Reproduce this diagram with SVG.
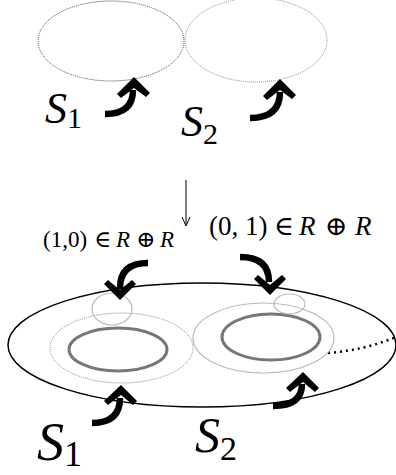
<svg xmlns="http://www.w3.org/2000/svg" width="396" height="475" viewBox="0 0 396 475">
<style>
text{font-family:'Liberation Serif','Times New Roman',Tinos,'DejaVu Serif',serif;fill:#000}
.it{font-style:italic}
.dot1{fill:none;stroke:#444;stroke-width:1;stroke-dasharray:1 1}
.dot2{fill:none;stroke:#888;stroke-width:1;stroke-dasharray:1 1}
.thick{fill:none;stroke:#777;stroke-width:3}
.small{fill:none;stroke:#bbb;stroke-width:1.2}
.arr{fill:none;stroke:#000;stroke-width:6.5}
.head{fill:#000;stroke:none}
</style>
<rect width="396" height="475" fill="#fff"/>
<g id="top-circle-1"><ellipse class="dot1" cx="111" cy="41" rx="73" ry="40"/></g>
<g id="top-circle-2"><ellipse class="dot2" cx="256" cy="40" rx="71" ry="42"/></g>
<g id="top-label-1"><text x="45" y="123" font-size="44"><tspan class="it">S</tspan><tspan font-size="30" dy="5">1</tspan></text></g>
<g id="top-label-2"><text x="181" y="136" font-size="44"><tspan class="it">S</tspan><tspan font-size="30" dy="8">2</tspan></text></g>
<g id="surface">
<ellipse cx="202" cy="345" rx="194" ry="62" fill="none" stroke="#000" stroke-width="1.5"/>
<path d="M328,353 Q365,350 396,337" fill="none" stroke="#000" stroke-width="2.5" stroke-dasharray="2 4"/>
</g>
<g id="bottom-circle-1">
<ellipse class="dot2" cx="121.5" cy="348" rx="71.5" ry="35"/>
<ellipse class="thick" cx="118" cy="349.5" rx="49" ry="21.5"/>
<ellipse class="small" cx="112" cy="309" rx="20" ry="16"/>
</g>
<g id="bottom-circle-2">
<ellipse class="small" cx="263.5" cy="338" rx="70.5" ry="35" stroke-width="1"/>
<ellipse class="thick" cx="271" cy="337" rx="49" ry="23"/>
<ellipse class="small" cx="289.5" cy="304" rx="15.5" ry="10"/>
</g>
<g id="label-10"><text y="247" font-size="23"><tspan x="43">(1,0)</tspan><tspan x="94">∈</tspan><tspan x="116" class="it">R</tspan><tspan x="136">⊕</tspan><tspan x="160" class="it">R</tspan></text></g>
<g id="label-01"><text y="235" font-size="27"><tspan x="209">(0, 1)</tspan><tspan x="274">∈</tspan><tspan x="299" class="it">R</tspan><tspan x="325">⊕</tspan><tspan x="355" class="it">R</tspan></text></g>
<g id="bottom-label-1"><text x="37" y="460" font-size="54"><tspan class="it">S</tspan><tspan font-size="36" dy="6">1</tspan></text></g>
<g id="bottom-label-2"><text x="195" y="452" font-size="50"><tspan class="it">S</tspan><tspan font-size="34" dy="8">2</tspan></text></g>
<g id="connectors">
<path class="arr" d="M105,114 Q133,114 133,90"/>
<polygon class="head" points="134,77 150,93 146,97 134,88 121,98 117,94"/>
<path class="arr" d="M250,118 Q280,118 280,92"/>
<polygon class="head" points="280,79 296,95 292,99 280,90 267,100 263,96"/>
<line x1="186" y1="180" x2="186" y2="224" stroke="#000" stroke-width="1"/>
<path d="M182,217 L186,226 L190,217" fill="none" stroke="#000" stroke-width="1"/>
<path class="arr" d="M148,263 Q120,263 120,288"/>
<polygon class="head" points="120,300 136,284 132,280 120,290 108,280 104,284"/>
<path class="arr" d="M240,257 Q269,257 269,282"/>
<polygon class="head" points="270,295 286,279 282,275 270,285 258,275 254,279"/>
<path class="arr" d="M92,423 Q120,423 120,398"/>
<polygon class="head" points="121,385 137,401 133,405 121,395 108,405 104,401"/>
<path class="arr" d="M273,406 Q302,406 302,384"/>
<polygon class="head" points="303,372 319,388 315,392 303,382 290,392 286,388"/>
</g>
</svg>
